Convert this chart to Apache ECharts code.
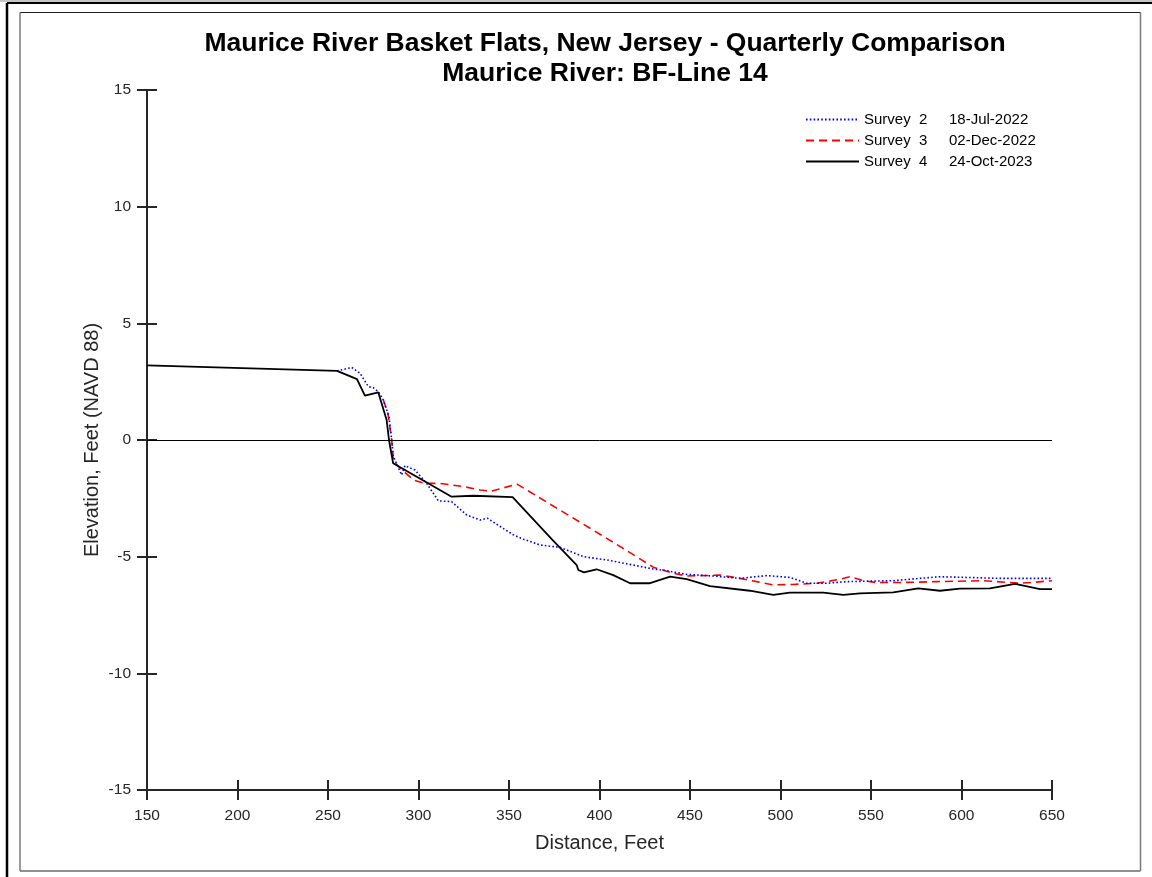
<!DOCTYPE html>
<html>
<head>
<meta charset="utf-8">
<script src="https://cdn.jsdelivr.net/npm/echarts@6/dist/echarts.min.js"></script>
<style>html,body{margin:0;padding:0;background:#fff;}#c{width:1152px;height:877px;}</style>
</head>
<body>
<div id="c"></div>
<script>
var titleLine1 = 'Maurice River Basket Flats, New Jersey - Quarterly Comparison';
var titleLine2 = 'Maurice River: BF-Line 14';
var surveyNames = ['Survey  2', 'Survey  3', 'Survey  4'];
var surveyDates = ['18-Jul-2022', '02-Dec-2022', '24-Oct-2023'];
var xTicks = [150, 650, 50];
var yTicks = [-15, 15, 5];

var survey2 = [[255,2.96],[263.1,3.11],[267.7,2.86],[272.3,2.29],[275.1,2.24],[277.8,2.07],[280.6,1.71],[283.7,1.0],[285.2,0],[286.1,-0.71],[290.7,-1.5],[292.5,-1.1],[298.1,-1.29],[304.5,-1.86],[311,-2.61],[318.3,-2.64],[326.6,-3.21],[334,-3.43],[338,-3.35],[344,-3.65],[352,-4.05],[357.9,-4.25],[367.1,-4.5],[378.2,-4.6],[391.1,-5.0],[404,-5.14],[418.7,-5.36],[429.7,-5.53],[437.1,-5.6],[448.2,-5.76],[462.9,-5.83],[477.6,-5.93],[492.3,-5.81],[505.2,-5.89],[514.4,-6.14],[525.4,-6.14],[536.5,-6.07],[562.3,-6.03],[577,-5.93],[588.1,-5.86],[602.8,-5.89],[621.2,-5.93],[637.8,-5.93],[650,-5.93]];
var survey3 = [[280.6,1.71],[283.2,1.1],[285.2,0],[286.1,-0.86],[288,-1.07],[297.1,-1.71],[303.6,-1.86],[311.9,-1.86],[325,-2.0],[334,-2.14],[340,-2.2],[354.4,-1.89],[408.6,-4.43],[429.7,-5.45],[440.8,-5.71],[448.2,-5.83],[466.6,-5.79],[477.6,-5.93],[486.8,-6.07],[496,-6.21],[507,-6.19],[520,-6.14],[532.9,-5.97],[538.4,-5.86],[545.8,-6.03],[553.1,-6.11],[566,-6.11],[586.3,-6.07],[612,-6.03],[624.9,-6.1],[632.3,-6.14],[639.6,-6.1],[650,-6.03]];
var survey4 = [[150,3.2],[255,2.96],[266,2.61],[270.4,1.9],[277.8,2.04],[282.4,0.86],[283.7,0],[286,-1.0],[318.3,-2.43],[330.3,-2.39],[352,-2.45],[373.6,-4.25],[387.4,-5.36],[388.3,-5.57],[391.4,-5.67],[398.4,-5.54],[407.6,-5.79],[416.9,-6.14],[427.5,-6.14],[439,-5.86],[448.2,-5.96],[461,-6.26],[483.1,-6.46],[496,-6.64],[505.2,-6.54],[523.6,-6.54],[534.7,-6.64],[543.9,-6.57],[562.3,-6.53],[576.1,-6.36],[588.1,-6.46],[599.2,-6.37],[615.7,-6.36],[629.6,-6.17],[643.4,-6.39],[650,-6.39]];

var FONT = '"Liberation Sans", Arial, sans-serif';
var AX = '#262626';
var chart = echarts.init(document.getElementById('c'), null, {renderer: 'canvas'});

function axisBase(extra) {
  var o = {type: 'value', splitLine: {show: false}, axisPointer: {show: false}};
  for (var k in extra) o[k] = extra[k];
  return o;
}

var dateMap = {};
surveyNames.forEach(function (n, i) { dateMap[n] = surveyDates[i]; });

var option = {
  animation: false,
  backgroundColor: '#fff',
  textStyle: {fontFamily: FONT},
  title: [
    {text: titleLine1, left: 600, textAlign: 'center', top: 25,
     textStyle: {fontFamily: FONT, fontSize: 26.5, fontWeight: 'bold', color: '#000'}},
    {text: titleLine2, left: 600, textAlign: 'center', top: 55,
     textStyle: {fontFamily: FONT, fontSize: 26.5, fontWeight: 'bold', color: '#000'}}
  ],
  legend: {
    orient: 'vertical', left: 805, top: 112, padding: 0, itemWidth: 53, itemHeight: 14, itemGap: 6,
    selectedMode: false,
    itemStyle: {opacity: 0, borderWidth: 0},
    data: surveyNames,
    formatter: function (n) { return '{a|' + n + '}{b|' + dateMap[n] + '}'; },
    textStyle: {fontFamily: FONT, fontSize: 15, color: '#000',
      rich: {a: {width: 85, fontSize: 15, fontFamily: FONT, color: '#000'},
             b: {fontSize: 15, fontFamily: FONT, color: '#000'}}}
  },
  grid: {left: 147, right: 100, top: 90, bottom: 87, containLabel: false},
  xAxis: [
    axisBase({min: xTicks[0], max: xTicks[1], interval: xTicks[2], position: 'bottom',
      name: 'Distance, Feet', nameLocation: 'middle', nameGap: 43, nameMoveOverlap: false,
      nameTextStyle: {fontFamily: FONT, fontSize: 20, color: AX},
      axisLine: {show: true, onZero: false, lineStyle: {color: AX, width: 2}},
      axisTick: {show: true, length: 10, lineStyle: {color: AX, width: 2}},
      axisLabel: {fontFamily: FONT, fontSize: 15.5, color: AX, margin: 18}}),
    axisBase({min: xTicks[0], max: xTicks[1], interval: xTicks[2], position: 'bottom',
      axisLine: {show: false, onZero: false},
      axisTick: {show: true, inside: true, length: 10, lineStyle: {color: AX, width: 2}},
      axisLabel: {show: false}})
  ],
  yAxis: [
    axisBase({min: yTicks[0], max: yTicks[1], interval: yTicks[2], position: 'left',
      name: 'Elevation, Feet (NAVD 88)', nameLocation: 'middle', nameGap: 45, nameMoveOverlap: false,
      nameTextStyle: {fontFamily: FONT, fontSize: 20, color: AX},
      axisLine: {show: true, onZero: false, lineStyle: {color: AX, width: 2}},
      axisTick: {show: true, length: 10, lineStyle: {color: AX, width: 2}},
      axisLabel: {fontFamily: FONT, fontSize: 15.5, color: AX, margin: 16}}),
    axisBase({min: yTicks[0], max: yTicks[1], interval: yTicks[2], position: 'left',
      axisLine: {show: false, onZero: false},
      axisTick: {show: true, inside: true, length: 10, lineStyle: {color: AX, width: 2}},
      axisLabel: {show: false}})
  ],
  series: [
    {name: surveyNames[0], type: 'line', data: survey2, showSymbol: false, symbol: 'none', silent: true,
     lineStyle: {color: '#0000ff', width: 1.6, type: [1.6, 2.2]}, itemStyle: {color: '#0000ff'}, z: 3},
    {name: surveyNames[1], type: 'line', data: survey3, showSymbol: false, symbol: 'none', silent: true,
     lineStyle: {color: '#ff0000', width: 1.6, type: [8, 5]}, itemStyle: {color: '#ff0000'}, z: 2},
    {name: surveyNames[2], type: 'line', data: survey4, showSymbol: false, symbol: 'none', silent: true,
     lineStyle: {color: '#000000', width: 1.8, type: 'solid'}, itemStyle: {color: '#000000'}, z: 4,
     markLine: {silent: true, symbol: ['none', 'none'], label: {show: false},
       lineStyle: {color: '#000', width: 1, type: 'solid'}, data: [{yAxis: 0}]}}
  ],
  graphic: [
    {type: 'line', shape: {x1: 0, y1: 1, x2: 1152, y2: 1}, style: {stroke: '#8a8a8a', lineWidth: 1}, silent: true},
    {type: 'line', shape: {x1: 7, y1: 3, x2: 1152, y2: 3}, style: {stroke: '#000', lineWidth: 2}, silent: true},
    {type: 'line', shape: {x1: 7, y1: 3, x2: 7, y2: 877}, style: {stroke: '#000', lineWidth: 2.5}, silent: true},
    {type: 'line', shape: {x1: 20, y1: 12.5, x2: 1140.5, y2: 12.5}, style: {stroke: '#222', lineWidth: 1.2}, silent: true},
    {type: 'line', shape: {x1: 20, y1: 871, x2: 1140.5, y2: 871}, style: {stroke: '#222', lineWidth: 1.2}, silent: true},
    {type: 'line', shape: {x1: 20, y1: 12.5, x2: 20, y2: 871}, style: {stroke: '#7a7a7a', lineWidth: 1.5}, silent: true},
    {type: 'line', shape: {x1: 1140.5, y1: 12.5, x2: 1140.5, y2: 871}, style: {stroke: '#7a7a7a', lineWidth: 1.5}, silent: true}
  ]
};
chart.setOption(option);
</script>
</body>
</html>
